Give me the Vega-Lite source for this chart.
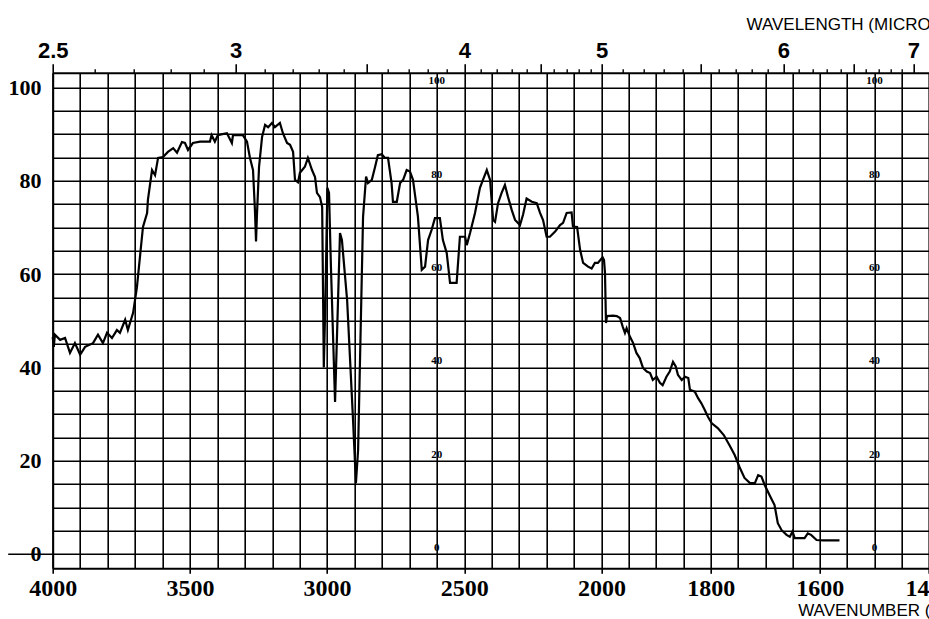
{
  "$schema": "https://vega.github.io/schema/vega-lite/v6.json",
  "autosize": {"type": "none"},
  "width": 876.3,
  "height": 495.6,
  "padding": {"left": 52.7, "top": 72.7, "right": 0, "bottom": 50.7},
  "background": "white",
  "config": {
    "view": {"stroke": null},
    "axis": {"domainColor": "#000", "tickColor": "#000", "labelColor": "#000", "titleColor": "#000", "gridColor": "#000", "gridOpacity": 1}
  },
  "datasets": {
    "spectrum": [
      {"wn": 4000, "T": 46.5}, {"wn": 3996, "T": 44.4}, {"wn": 3992, "T": 47.0}, {"wn": 3973, "T": 45.9},
      {"wn": 3955, "T": 46.3}, {"wn": 3937, "T": 43.1}, {"wn": 3919, "T": 45.2}, {"wn": 3900, "T": 42.7},
      {"wn": 3882, "T": 44.4}, {"wn": 3853, "T": 45.2}, {"wn": 3835, "T": 47.0}, {"wn": 3817, "T": 45.2},
      {"wn": 3802, "T": 47.4}, {"wn": 3784, "T": 46.3}, {"wn": 3766, "T": 48.0}, {"wn": 3755, "T": 47.4},
      {"wn": 3736, "T": 50.2}, {"wn": 3726, "T": 48.0}, {"wn": 3707, "T": 51.7}, {"wn": 3693, "T": 57.2},
      {"wn": 3682, "T": 63.7}, {"wn": 3671, "T": 70.1}, {"wn": 3656, "T": 73.1}, {"wn": 3653, "T": 75.9},
      {"wn": 3638, "T": 82.3}, {"wn": 3627, "T": 81.2}, {"wn": 3616, "T": 84.9}, {"wn": 3598, "T": 85.1},
      {"wn": 3580, "T": 86.2}, {"wn": 3561, "T": 87.0}, {"wn": 3547, "T": 86.0}, {"wn": 3529, "T": 88.3},
      {"wn": 3518, "T": 88.1}, {"wn": 3507, "T": 86.6}, {"wn": 3489, "T": 88.1}, {"wn": 3463, "T": 88.4},
      {"wn": 3427, "T": 88.4}, {"wn": 3421, "T": 89.8}, {"wn": 3409, "T": 88.4}, {"wn": 3398, "T": 89.8},
      {"wn": 3365, "T": 90.2}, {"wn": 3347, "T": 88.1}, {"wn": 3343, "T": 89.8}, {"wn": 3307, "T": 89.8},
      {"wn": 3292, "T": 88.4}, {"wn": 3281, "T": 84.9}, {"wn": 3270, "T": 82.3}, {"wn": 3263, "T": 73.7},
      {"wn": 3259, "T": 67.0}, {"wn": 3256, "T": 72.2}, {"wn": 3248, "T": 83.0}, {"wn": 3237, "T": 89.4},
      {"wn": 3226, "T": 92.0}, {"wn": 3215, "T": 91.5}, {"wn": 3201, "T": 92.4}, {"wn": 3190, "T": 91.5},
      {"wn": 3172, "T": 92.4}, {"wn": 3161, "T": 90.2}, {"wn": 3146, "T": 88.1}, {"wn": 3135, "T": 87.7},
      {"wn": 3124, "T": 86.2}, {"wn": 3117, "T": 80.2}, {"wn": 3106, "T": 79.7}, {"wn": 3099, "T": 81.7},
      {"wn": 3081, "T": 83.0}, {"wn": 3070, "T": 84.9}, {"wn": 3055, "T": 82.3}, {"wn": 3044, "T": 80.8},
      {"wn": 3037, "T": 77.4}, {"wn": 3026, "T": 76.5}, {"wn": 3018, "T": 74.4}, {"wn": 3012, "T": 40.0},
      {"wn": 3006, "T": 55.0}, {"wn": 2999, "T": 78.5}, {"wn": 2993, "T": 77.4}, {"wn": 2986, "T": 61.5},
      {"wn": 2971, "T": 32.6}, {"wn": 2953, "T": 68.8}, {"wn": 2946, "T": 67.3}, {"wn": 2927, "T": 54.4},
      {"wn": 2906, "T": 29.4}, {"wn": 2895, "T": 15.2}, {"wn": 2887, "T": 22.3}, {"wn": 2869, "T": 72.2},
      {"wn": 2858, "T": 80.9}, {"wn": 2851, "T": 79.5}, {"wn": 2837, "T": 80.2}, {"wn": 2825, "T": 83.0},
      {"wn": 2815, "T": 85.5}, {"wn": 2801, "T": 85.7}, {"wn": 2789, "T": 84.9}, {"wn": 2778, "T": 84.9},
      {"wn": 2765, "T": 79.5}, {"wn": 2760, "T": 75.5}, {"wn": 2746, "T": 75.5}, {"wn": 2734, "T": 79.5},
      {"wn": 2723, "T": 80.2}, {"wn": 2710, "T": 82.3}, {"wn": 2698, "T": 82.0}, {"wn": 2687, "T": 80.2},
      {"wn": 2669, "T": 72.3}, {"wn": 2655, "T": 60.9}, {"wn": 2643, "T": 61.6}, {"wn": 2632, "T": 67.3},
      {"wn": 2619, "T": 69.5}, {"wn": 2607, "T": 72.0}, {"wn": 2589, "T": 72.0}, {"wn": 2578, "T": 67.3},
      {"wn": 2564, "T": 64.5}, {"wn": 2552, "T": 58.1}, {"wn": 2528, "T": 58.1}, {"wn": 2516, "T": 68.0},
      {"wn": 2497, "T": 68.0}, {"wn": 2491, "T": 66.2}, {"wn": 2479, "T": 68.8}, {"wn": 2461, "T": 73.1},
      {"wn": 2443, "T": 78.5}, {"wn": 2432, "T": 80.2}, {"wn": 2418, "T": 82.3}, {"wn": 2406, "T": 80.2},
      {"wn": 2395, "T": 71.6}, {"wn": 2388, "T": 71.2}, {"wn": 2377, "T": 75.2}, {"wn": 2364, "T": 77.4},
      {"wn": 2352, "T": 79.1}, {"wn": 2341, "T": 76.6}, {"wn": 2327, "T": 73.7}, {"wn": 2315, "T": 71.6},
      {"wn": 2297, "T": 70.5}, {"wn": 2286, "T": 72.7}, {"wn": 2273, "T": 76.2}, {"wn": 2254, "T": 75.5},
      {"wn": 2236, "T": 75.2}, {"wn": 2224, "T": 73.1}, {"wn": 2213, "T": 71.6}, {"wn": 2200, "T": 68.0},
      {"wn": 2188, "T": 68.0}, {"wn": 2169, "T": 69.1}, {"wn": 2151, "T": 70.5}, {"wn": 2140, "T": 71.0},
      {"wn": 2127, "T": 73.1}, {"wn": 2109, "T": 73.2}, {"wn": 2104, "T": 70.2}, {"wn": 2089, "T": 70.1},
      {"wn": 2078, "T": 65.2}, {"wn": 2067, "T": 62.4}, {"wn": 2049, "T": 61.6}, {"wn": 2036, "T": 61.2},
      {"wn": 2024, "T": 62.4}, {"wn": 2013, "T": 62.4}, {"wn": 1998, "T": 63.6}, {"wn": 1995.4, "T": 63.0},
      {"wn": 1993.6, "T": 60.2}, {"wn": 1991.8, "T": 49.5}, {"wn": 1990, "T": 51.0}, {"wn": 1979, "T": 51.1},
      {"wn": 1972, "T": 51.0}, {"wn": 1966, "T": 50.6}, {"wn": 1961, "T": 48.7}, {"wn": 1957, "T": 47.4},
      {"wn": 1954, "T": 48.4}, {"wn": 1948, "T": 46.6}, {"wn": 1942, "T": 45.2}, {"wn": 1936, "T": 43.1},
      {"wn": 1930, "T": 42.0}, {"wn": 1924, "T": 39.9}, {"wn": 1917, "T": 39.1}, {"wn": 1911, "T": 38.8},
      {"wn": 1906, "T": 37.3}, {"wn": 1899, "T": 38.0}, {"wn": 1893, "T": 36.7}, {"wn": 1888, "T": 36.2},
      {"wn": 1881, "T": 38.0}, {"wn": 1875, "T": 39.1}, {"wn": 1869, "T": 41.2}, {"wn": 1864, "T": 40.2},
      {"wn": 1860, "T": 38.4}, {"wn": 1853, "T": 37.3}, {"wn": 1847, "T": 38.0}, {"wn": 1841, "T": 37.7},
      {"wn": 1838, "T": 35.2}, {"wn": 1829, "T": 34.8}, {"wn": 1823, "T": 33.4}, {"wn": 1817, "T": 32.3},
      {"wn": 1811, "T": 30.9}, {"wn": 1805, "T": 29.4}, {"wn": 1798, "T": 28.0}, {"wn": 1787, "T": 27.0},
      {"wn": 1776, "T": 25.5}, {"wn": 1765, "T": 23.2}, {"wn": 1756, "T": 21.2}, {"wn": 1747, "T": 18.6},
      {"wn": 1738, "T": 16.3}, {"wn": 1728, "T": 15.2}, {"wn": 1719, "T": 15.2}, {"wn": 1713, "T": 16.9},
      {"wn": 1707, "T": 16.6}, {"wn": 1701, "T": 14.8}, {"wn": 1692, "T": 12.6}, {"wn": 1683, "T": 10.5},
      {"wn": 1677, "T": 6.6}, {"wn": 1670, "T": 5.1}, {"wn": 1661, "T": 4.1}, {"wn": 1655, "T": 3.7},
      {"wn": 1650, "T": 4.8}, {"wn": 1646, "T": 3.4}, {"wn": 1637, "T": 3.4}, {"wn": 1628, "T": 3.4},
      {"wn": 1622, "T": 4.4}, {"wn": 1616, "T": 4.1}, {"wn": 1606, "T": 3.0}, {"wn": 1594, "T": 2.9},
      {"wn": 1564, "T": 2.9}
    ],
    "paper": [
      {"wn": 2600, "T": 100, "label": "100"}, {"wn": 2600, "T": 80, "label": "80"}, {"wn": 2600, "T": 60, "label": "60"},
      {"wn": 2600, "T": 40, "label": "40"}, {"wn": 2600, "T": 20, "label": "20"}, {"wn": 2600, "T": 0, "label": "0"},
      {"wn": 1500, "T": 100, "label": "100"}, {"wn": 1500, "T": 80, "label": "80"}, {"wn": 1500, "T": 60, "label": "60"},
      {"wn": 1500, "T": 40, "label": "40"}, {"wn": 1500, "T": 20, "label": "20"}, {"wn": 1500, "T": 0, "label": "0"}
    ]
  },
  "resolve": {"axis": {"x": "independent", "y": "independent"}},
  "layer": [
    {
      "data": {"name": "spectrum"},
      "mark": {"type": "line", "color": "#000", "strokeWidth": 2.2},
      "encoding": {
        "x": {
          "field": "wn", "type": "quantitative",
          "scale": {"domain": [4000, 2000, 1400], "range": [0, 548.8, 876.3], "nice": false, "zero": false},
          "axis": {
            "orient": "bottom",
            "values": [4000, 3900, 3800, 3700, 3600, 3500, 3400, 3300, 3200, 3100, 3000, 2900, 2800, 2700, 2600, 2500, 2400, 2300, 2200, 2100, 2000, 1950, 1900, 1850, 1800, 1750, 1700, 1650, 1600, 1550, 1500, 1450, 1400],
            "format": "d",
            "labelExpr": "indexof([4000,3500,3000,2500,2000,1800,1600,1400], datum.value) >= 0 ? datum.label : ''",
            "grid": true, "gridWidth": 1.6,
            "domainWidth": 2,
            "tickSize": 5, "tickWidth": 1.6,
            "tickOpacity": {"condition": {"test": "indexof([4000,3500,3000,2500,2000,1800,1600,1400], datum.value) >= 0", "value": 1}, "value": 0},
            "labelFont": "Liberation Sans Narrow", "labelFontSize": 24, "labelFontWeight": "bold", "labelPadding": 3,
            "labelOverlap": false, "labelFlush": false,
            "title": "WAVENUMBER (CM⁻¹)",
            "titleFont": "Liberation Sans", "titleFontSize": 17, "titleFontWeight": "normal",
            "titleX": 745, "titleY": 47, "titleAlign": "left", "titleAnchor": "start", "titleBaseline": "alphabetic"
          }
        },
        "y": {
          "field": "T", "type": "quantitative",
          "scale": {"domain": [-3.07, 103.17], "nice": false, "zero": false},
          "axis": {
            "orient": "left",
            "values": [0, 5, 10, 15, 20, 25, 30, 35, 40, 45, 50, 55, 60, 65, 70, 75, 80, 85, 90, 95, 100],
            "grid": true, "gridWidth": 1.6,
            "domainWidth": 2,
            "tickSize": 45, "tickWidth": 1.6,
            "tickOpacity": {"condition": {"test": "datum.value == 0", "value": 1}, "value": 0},
            "labelExpr": "datum.value % 20 == 0 ? datum.label : ''",
            "labelPadding": -33.3,
            "labelFont": "Liberation Sans Narrow", "labelFontSize": 22, "labelFontWeight": "bold",
            "labelOverlap": false, "labelFlush": false,
            "title": null
          }
        }
      }
    },
    {
      "data": {"name": "paper"},
      "transform": [{"filter": "datum.wn > 2000"}],
      "mark": {"type": "text", "font": "Liberation Sans Narrow", "fontSize": 11, "fontWeight": "bold", "baseline": "bottom", "dy": -1, "color": "#000"},
      "encoding": {
        "x": {
          "field": "wn", "type": "quantitative",
          "axis": {
            "orient": "top",
            "values": [4000, 3333.33, 2857.14, 2500, 2222.22, 2000, 1818.18, 1666.67, 1538.46, 1428.57],
            "labelExpr": "datum.value == 4000 ? '2.5' : (abs(10000/datum.value - round(10000/datum.value)) < 0.01 ? format(round(10000/datum.value), 'd') : '')",
            "grid": false,
            "domainWidth": 2,
            "tickSize": 9, "tickWidth": 1.6,
            "labelFont": "Liberation Sans", "labelFontSize": 22, "labelFontWeight": "bold", "labelPadding": 1,
            "labelOverlap": false, "labelFlush": false,
            "title": "WAVELENGTH (MICRONS)",
            "titleFont": "Liberation Sans", "titleFontSize": 17, "titleFontWeight": "normal",
            "titleX": 693.3, "titleY": -43.2, "titleAlign": "left", "titleAnchor": "start", "titleBaseline": "alphabetic"
          }
        },
        "y": {"field": "T", "type": "quantitative", "axis": null},
        "text": {"field": "label"}
      }
    },
    {
      "data": {"name": "paper"},
      "transform": [{"filter": "datum.wn < 2000"}],
      "mark": {"type": "text", "font": "Liberation Sans Narrow", "fontSize": 11, "fontWeight": "bold", "baseline": "bottom", "dy": -1, "color": "#000"},
      "encoding": {
        "x": {
          "field": "wn", "type": "quantitative",
          "axis": {
            "orient": "top",
            "values": [3846.15, 3703.70, 3571.43, 3448.28, 3225.81, 3125, 3030.30, 2941.18, 2777.78, 2702.70, 2631.58, 2564.10, 2439.02, 2380.95, 2325.58, 2272.73, 2173.91, 2127.66, 2083.33, 2040.82, 1960.78, 1923.08, 1886.79, 1851.85, 1785.71, 1754.39, 1724.14, 1694.92, 1639.34, 1612.90, 1587.30, 1562.5, 1515.15, 1492.54, 1470.59, 1449.28],
            "labels": false,
            "grid": false,
            "domain": false,
            "tickSize": 4, "tickWidth": 1.4,
            "title": null
          }
        },
        "y": {"field": "T", "type": "quantitative", "axis": null},
        "text": {"field": "label"}
      }
    }
  ]
}
